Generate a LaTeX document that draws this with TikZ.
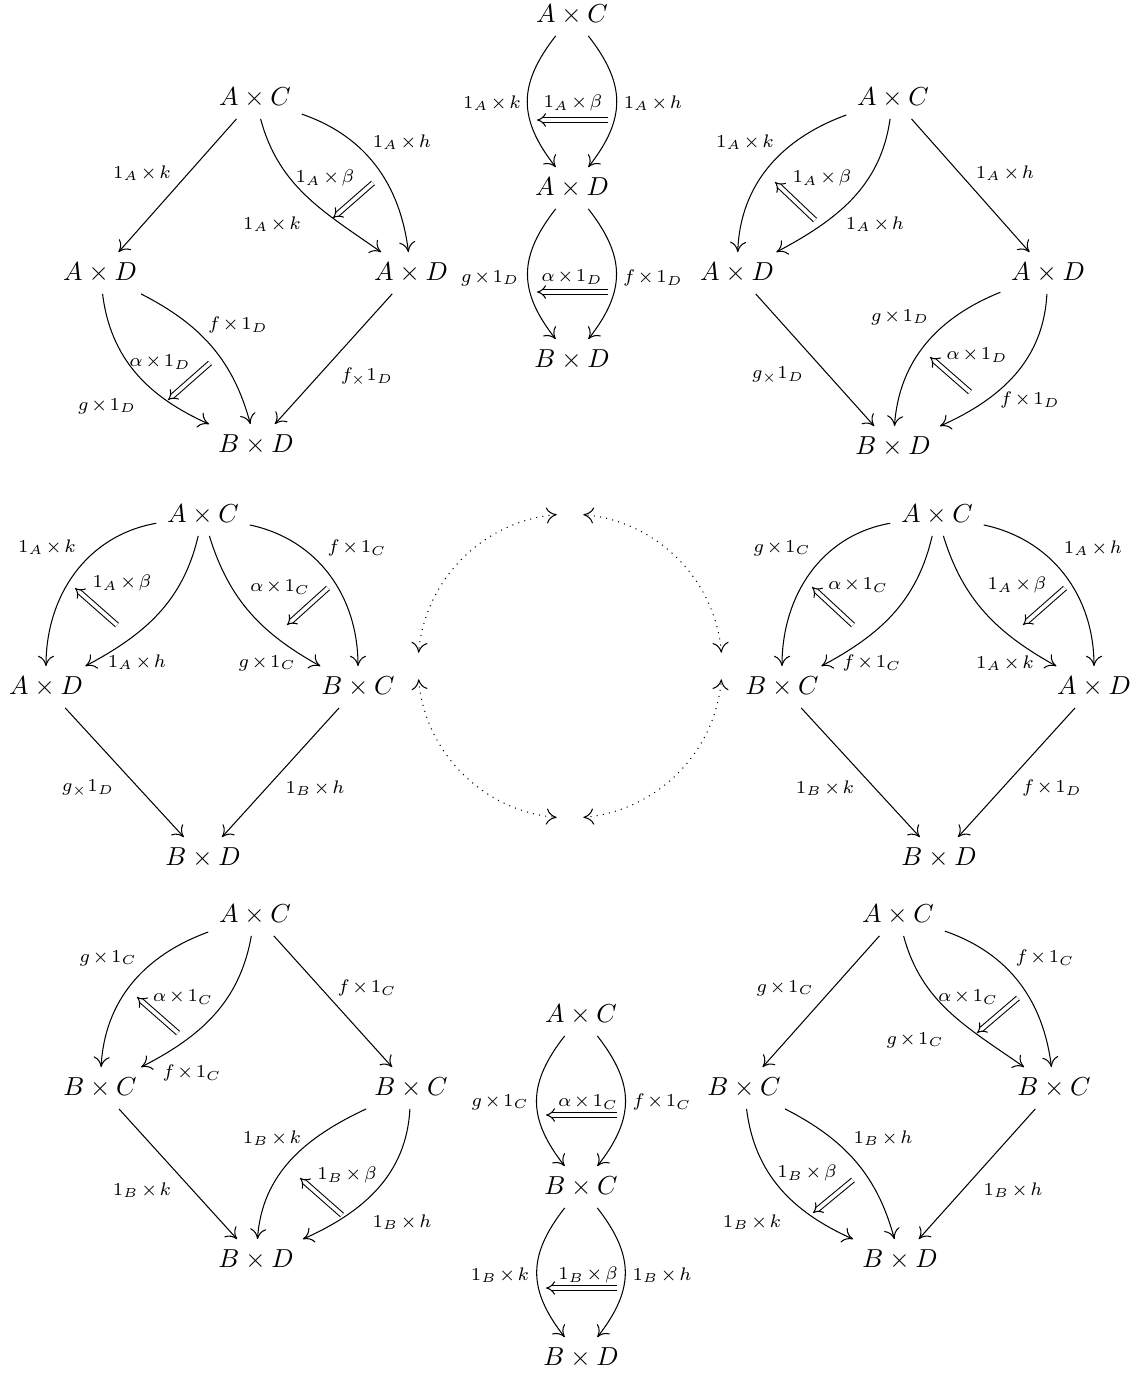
\documentclass[tikz,border=0pt]{standalone}
\usetikzlibrary{arrows.meta}
\newcommand\mylblfont{\scriptsize\medmuskip=2mu\relax}
\begin{document}
\begin{tikzpicture}[x=0.3846pt,y=0.3846pt,
  obj/.style={inner sep=4pt},
  lbl/.style={inner sep=0pt, font=\mylblfont},
  arr/.style={-{Computer Modern Rightarrow[length=4pt,width=6.2pt]}, line width=0.4pt},
  cell/.style={double, double distance=1.4pt, line width=0.4pt, -{Implies}},
  circ/.style={dotted, line width=0.4pt, {Computer Modern Rightarrow[length=4pt,width=6.2pt]}-{Computer Modern Rightarrow[length=4pt,width=6.2pt]}},
  bl/.style={bend left=38, looseness=1.2},
  br/.style={bend right=38, looseness=1.2}]
\useasboundingbox (0,0) rectangle (1135,-1375);

% ---------- top left
\node[obj] (a1) at (255,-98) {$A\times C$};
\node[obj] (a2) at (100,-273) {$A\times D$};
\node[obj] (a3) at (411,-273) {$A\times D$};
\node[obj] (a4) at (256,-445) {$B\times D$};
\draw[arr] (a1) -- (a2);
\draw[arr] (a1) to[out=-19,in=97] (a3);
\draw[arr] (a1) to[out=-75,in=145] (a3);
\draw[arr] (a2) to[out=-83,in=156] (a4);
\draw[arr] (a2) to[out=-27,in=105] (a4);
\draw[arr] (a3) -- (a4);
\coordinate (a5) at (373,-183); \coordinate (a6) at (333,-218); \draw[cell] (a5) -- (a6);
\coordinate (a7) at (210,-363); \coordinate (a8) at (168,-400); \draw[cell] (a7) -- (a8);
\node[lbl] (la1) at (142,-173) {$1_A\times k$};
\node[lbl] (la2) at (402,-142) {$1_A\times h$};
\node[lbl] (la3) at (272,-224) {$1_A\times k$};
\node[lbl] (la4) at (325,-178) {$1_A\times\beta$};
\node[lbl] (la5) at (107,-406) {$g\times 1_D$};
\node[lbl] (la6) at (238,-325) {$f\times 1_D$};
\node[lbl] (la7) at (160,-362) {$\alpha\times 1_D$};
\node[lbl] (la8) at (367,-377) {$f_{\times}1_D$};

% ---------- top middle
\node[obj] (b1) at (572,-15) {$A\times C$};
\node[obj] (b2) at (572,-188) {$A\times D$};
\node[obj] (b3) at (572,-360) {$B\times D$};
\draw[arr] (b1) to[br] (b2);
\draw[arr] (b1) to[bl] (b2);
\draw[arr] (b2) to[br] (b3);
\draw[arr] (b2) to[bl] (b3);
\coordinate (b4) at (608,-120); \coordinate (b5) at (537,-120); \draw[cell] (b4) -- (b5);
\coordinate (b6) at (608,-292); \coordinate (b7) at (537,-292); \draw[cell] (b6) -- (b7);
\node[lbl] (lb1) at (492,-103) {$1_A\times k$};
\node[lbl] (lb2) at (653,-103) {$1_A\times h$};
\node[lbl] (lb3) at (573,-103) {$1_A\times\beta$};
\node[lbl] (lb4) at (490,-278) {$g\times 1_D$};
\node[lbl] (lb5) at (653,-278) {$f\times 1_D$};
\node[lbl] (lb6) at (572,-277) {$\alpha\times 1_D$};

% ---------- top right
\node[obj] (c1) at (893,-98) {$A\times C$};
\node[obj] (c2) at (737,-273) {$A\times D$};
\node[obj] (c3) at (1048,-273) {$A\times D$};
\node[obj] (c4) at (893,-447) {$B\times D$};
\draw[arr] (c1) to[out=200,in=88] (c2);
\draw[arr] (c1) to[out=262,in=28] (c2);
\draw[arr] (c1) -- (c3);
\draw[arr] (c2) -- (c4);
\draw[arr] (c3) to[out=202,in=86] (c4);
\draw[arr] (c3) to[out=267,in=24] (c4);
\coordinate (c5) at (815,-220); \coordinate (c6) at (775,-182); \draw[cell] (c5) -- (c6);
\coordinate (c7) at (970,-392); \coordinate (c8) at (930,-357); \draw[cell] (c7) -- (c8);
\node[lbl] (lc1) at (745,-142) {$1_A\times k$};
\node[lbl] (lc2) at (875,-224) {$1_A\times h$};
\node[lbl] (lc3) at (822,-178) {$1_A\times\beta$};
\node[lbl] (lc4) at (1005,-173) {$1_A\times h$};
\node[lbl] (lc5) at (778,-375) {$g_{\times}1_D$};
\node[lbl] (lc6) at (900,-317) {$g\times 1_D$};
\node[lbl] (lc7) at (1030,-400) {$f\times 1_D$};
\node[lbl] (lc8) at (977,-355) {$\alpha\times 1_D$};

% ---------- middle left
\node[obj] (d1) at (203,-515) {$A\times C$};
\node[obj] (d2) at (46,-687) {$A\times D$};
\node[obj] (d3) at (358,-687) {$B\times C$};
\node[obj] (d4) at (203,-858) {$B\times D$};
\draw[arr] (d1) to[out=190,in=90] (d2);
\draw[arr] (d1) to[out=257,in=28] (d2);
\draw[arr] (d1) to[out=-73,in=151] (d3);
\draw[arr] (d1) to[out=-12,in=90] (d3);
\draw[arr] (d2) -- (d4);
\draw[arr] (d3) -- (d4);
\coordinate (d5) at (117,-625); \coordinate (d6) at (75,-588); \draw[cell] (d5) -- (d6);
\coordinate (d7) at (328,-588); \coordinate (d8) at (287,-625); \draw[cell] (d7) -- (d8);
\node[lbl] (ld1) at (47,-547) {$1_A\times k$};
\node[lbl] (ld2) at (137,-662) {$1_A\times h$};
\node[lbl] (ld3) at (122,-583) {$1_A\times\beta$};
\node[lbl] (ld4) at (267,-663) {$g\times 1_C$};
\node[lbl] (ld5) at (357,-548) {$f\times 1_C$};
\node[lbl] (ld6) at (280,-587) {$\alpha\times 1_C$};
\node[lbl] (ld7) at (88,-788) {$g_{\times}1_D$};
\node[lbl] (ld8) at (315,-788) {$1_B\times h$};

% ---------- centre circle
\coordinate (e0) at (570,-666);
\draw[circ] ([shift={(5:152)}]e0) arc[start angle=5,end angle=85,radius=152];
\draw[circ] ([shift={(95:152)}]e0) arc[start angle=95,end angle=175,radius=152];
\draw[circ] ([shift={(185:152)}]e0) arc[start angle=185,end angle=265,radius=152];
\draw[circ] ([shift={(275:152)}]e0) arc[start angle=275,end angle=355,radius=152];

% ---------- middle right
\node[obj] (f1) at (937,-515) {$A\times C$};
\node[obj] (f2) at (782,-687) {$B\times C$};
\node[obj] (f3) at (1094,-687) {$A\times D$};
\node[obj] (f4) at (939,-858) {$B\times D$};
\draw[arr] (f1) to[out=190,in=90] (f2);
\draw[arr] (f1) to[out=257,in=28] (f2);
\draw[arr] (f1) to[out=-73,in=151] (f3);
\draw[arr] (f1) to[out=-12,in=90] (f3);
\draw[arr] (f2) -- (f4);
\draw[arr] (f3) -- (f4);
\coordinate (f5) at (853,-625); \coordinate (f6) at (812,-587); \draw[cell] (f5) -- (f6);
\coordinate (f7) at (1065,-588); \coordinate (f8) at (1023,-625); \draw[cell] (f7) -- (f8);
\node[lbl] (lf1) at (782,-548) {$g\times 1_C$};
\node[lbl] (lf2) at (872,-663) {$f\times 1_C$};
\node[lbl] (lf3) at (858,-585) {$\alpha\times 1_C$};
\node[lbl] (lf4) at (1005,-663) {$1_A\times k$};
\node[lbl] (lf5) at (1093,-548) {$1_A\times h$};
\node[lbl] (lf6) at (1017,-585) {$1_A\times\beta$};
\node[lbl] (lf7) at (825,-788) {$1_B\times k$};
\node[lbl] (lf8) at (1052,-788) {$f\times 1_D$};

% ---------- bottom left
\node[obj] (g1) at (255,-915) {$A\times C$};
\node[obj] (g2) at (100,-1088) {$B\times C$};
\node[obj] (g3) at (411,-1088) {$B\times C$};
\node[obj] (g4) at (256,-1260) {$B\times D$};
\draw[arr] (g1) to[out=200,in=87] (g2);
\draw[arr] (g1) to[out=260,in=27] (g2);
\draw[arr] (g1) -- (g3);
\draw[arr] (g2) -- (g4);
\draw[arr] (g3) to[out=205,in=86] (g4);
\draw[arr] (g3) to[out=-93,in=24] (g4);
\coordinate (g5) at (178,-1033); \coordinate (g6) at (137,-997); \draw[cell] (g5) -- (g6);
\coordinate (g7) at (342,-1215); \coordinate (g8) at (300,-1178); \draw[cell] (g7) -- (g8);
\node[lbl] (lg1) at (108,-958) {$g\times 1_C$};
\node[lbl] (lg2) at (192,-1073) {$f\times 1_C$};
\node[lbl] (lg3) at (183,-997) {$\alpha\times 1_C$};
\node[lbl] (lg4) at (367,-988) {$f\times 1_C$};
\node[lbl] (lg5) at (142,-1190) {$1_B\times k$};
\node[lbl] (lg6) at (272,-1138) {$1_B\times k$};
\node[lbl] (lg7) at (402,-1222) {$1_B\times h$};
\node[lbl] (lg8) at (347,-1175) {$1_B\times\beta$};

% ---------- bottom middle
\node[obj] (h1) at (581,-1015) {$A\times C$};
\node[obj] (h2) at (581,-1187) {$B\times C$};
\node[obj] (h3) at (581,-1358) {$B\times D$};
\draw[arr] (h1) to[br] (h2);
\draw[arr] (h1) to[bl] (h2);
\draw[arr] (h2) to[br] (h3);
\draw[arr] (h2) to[bl] (h3);
\coordinate (h4) at (617,-1115); \coordinate (h5) at (546,-1115); \draw[cell] (h4) -- (h5);
\coordinate (h6) at (617,-1288); \coordinate (h7) at (546,-1288); \draw[cell] (h6) -- (h7);
\node[lbl] (lh1) at (500,-1102) {$g\times 1_C$};
\node[lbl] (lh2) at (662,-1102) {$f\times 1_C$};
\node[lbl] (lh3) at (588,-1102) {$\alpha\times 1_C$};
\node[lbl] (lh4) at (500,-1275) {$1_B\times k$};
\node[lbl] (lh5) at (662,-1275) {$1_B\times h$};
\node[lbl] (lh6) at (588,-1275) {$1_B\times\beta$};

% ---------- bottom right
\node[obj] (i1) at (898,-915) {$A\times C$};
\node[obj] (i2) at (744,-1088) {$B\times C$};
\node[obj] (i3) at (1054,-1088) {$B\times C$};
\node[obj] (i4) at (900,-1260) {$B\times D$};
\draw[arr] (i1) -- (i2);
\draw[arr] (i1) to[out=-75,in=145] (i3);
\draw[arr] (i1) to[out=-19,in=97] (i3);
\draw[arr] (i2) to[out=-83,in=156] (i4);
\draw[arr] (i2) to[out=-27,in=105] (i4);
\draw[arr] (i3) -- (i4);
\coordinate (i5) at (1018,-998); \coordinate (i6) at (977,-1033); \draw[cell] (i5) -- (i6);
\coordinate (i7) at (853,-1180); \coordinate (i8) at (813,-1213); \draw[cell] (i7) -- (i8);
\node[lbl] (li1) at (785,-988) {$g\times 1_C$};
\node[lbl] (li2) at (915,-1040) {$g\times 1_C$};
\node[lbl] (li3) at (1045,-958) {$f\times 1_C$};
\node[lbl] (li4) at (968,-997) {$\alpha\times 1_C$};
\node[lbl] (li5) at (752,-1222) {$1_B\times k$};
\node[lbl] (li6) at (883,-1138) {$1_B\times h$};
\node[lbl] (li7) at (807,-1173) {$1_B\times\beta$};
\node[lbl] (li8) at (1013,-1190) {$1_B\times h$};
\end{tikzpicture}
\end{document}
